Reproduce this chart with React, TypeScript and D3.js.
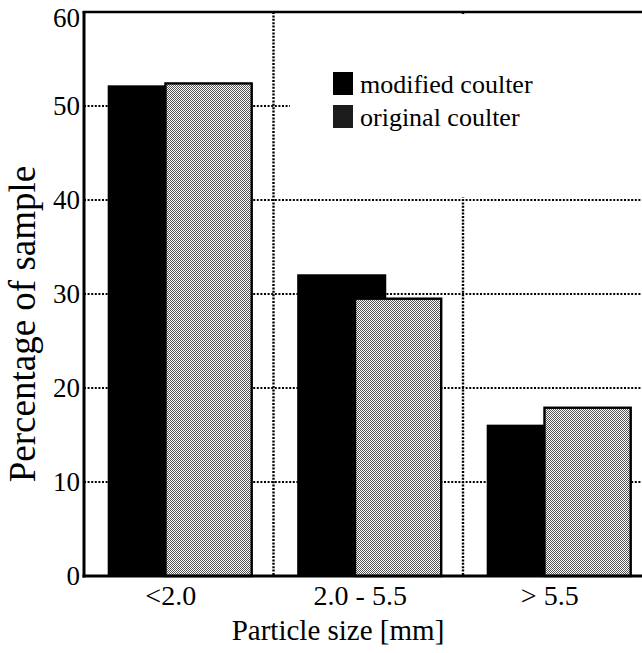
import React from "react";
import * as d3 from "d3";

const categories = ["<2.0", "2.0 - 5.5", "> 5.5"];
const modifiedCoulter = [52.2, 32.1, 16.1];
const originalCoulter = [52.4, 29.5, 17.9];
const yTicks = [0, 10, 20, 30, 40, 50, 60];
const gridTicks = [10, 20, 30, 40, 50];
const seriesNames = ["modified coulter", "original coulter"];

const W = 642;
const H = 653;
const FONT = '"Liberation Serif", "DejaVu Serif", serif';

export default function App() {
  const left = 84;
  const top = 12;
  const bottom = 576;
  const y = d3.scaleLinear().domain([0, 60]).range([bottom, top]);
  const x = d3.scaleBand().domain(categories).range([left, left + 3 * 189.5]).padding(0);
  const bw = x.bandwidth();
  const blackX = (c: string) => (x(c) as number) + bw * 0.125;
  const blackW = bw * 0.47;
  const grayX = (c: string) => (x(c) as number) + bw * 0.43;
  const grayW = bw * 0.455;
  const separators = categories.slice(1).map((c) => x(c) as number);
  const txt = (size: number) => ({ fontFamily: FONT, fontSize: size });

  return (
    <div style={{ position: "absolute", left: 0, top: 0 }}>
      <svg width={W} height={H} style={{ display: "block", background: "#fff" }}>
        <defs>
          <pattern id="dither" width={2} height={2} patternUnits="userSpaceOnUse">
            <rect x={0} y={0} width={2} height={2} fill="#ffffff" />
            <rect x={0} y={0} width={1} height={1} fill="#555555" />
            <rect x={1} y={1} width={1} height={1} fill="#555555" />
          </pattern>
        </defs>
        <rect width={W} height={H} fill="#fff" />

        {gridTicks.map((t) => (
          <line
            key={"g" + t}
            x1={left}
            x2={W}
            y1={y(t)}
            y2={y(t)}
            stroke="#000"
            strokeWidth={2}
            strokeDasharray="2,1.6"
          />
        ))}
        {separators.map((s, i) => (
          <line
            key={"s" + i}
            x1={s}
            x2={s}
            y1={top}
            y2={bottom}
            stroke="#000"
            strokeWidth={2.4}
            strokeDasharray="2,1.4"
          />
        ))}

        <rect x={290} y={top + 2} width={W - 290} height={183} fill="#fff" />

        {categories.map((c, i) => (
          <g key={c}>
            <rect
              x={blackX(c)}
              y={y(modifiedCoulter[i])}
              width={blackW}
              height={bottom - y(modifiedCoulter[i])}
              fill="#000"
            />
            <rect
              x={grayX(c)}
              y={y(originalCoulter[i])}
              width={grayW}
              height={bottom - y(originalCoulter[i])}
              fill="url(#dither)"
              stroke="#000"
              strokeWidth={2.4}
            />
          </g>
        ))}

        <line x1={left} x2={left} y1={top} y2={bottom + 1.5} stroke="#000" strokeWidth={3} />
        <line x1={left - 1.5} x2={W} y1={top} y2={top} stroke="#000" strokeWidth={2.5} />
        <line x1={left - 1.5} x2={W} y1={bottom} y2={bottom} stroke="#000" strokeWidth={3} />

        {yTicks.map((t) => (
          <text
            key={"t" + t}
            x={80}
            y={y(t)}
            dy={t === 60 ? "0.55em" : "0.35em"}
            textAnchor="end"
            style={txt(27)}
            fill="#000"
          >
            {t}
          </text>
        ))}

        {categories.map((c) => (
          <text
            key={"x" + c}
            x={(x(c) as number) + bw / 2 - 8}
            y={605}
            textAnchor="middle"
            style={txt(28)}
            fill="#000"
          >
            {c}
          </text>
        ))}

        <text x={338} y={640} textAnchor="middle" style={txt(29)} fill="#000">
          Particle size [mm]
        </text>
        <text
          transform={`translate(35, ${324}) rotate(-90)`}
          textAnchor="middle"
          style={txt(37)}
          fill="#000"
        >
          Percentage of sample
        </text>

        {seriesNames.map((n, i) => (
          <g key={n} transform={`translate(333, ${72 + i * 33})`}>
            <rect width={20} height={23} fill={i === 0 ? "#000" : "#1c1c1c"} />
            <text x={27} y={21} style={txt(26)} fill="#000">
              {n}
            </text>
          </g>
        ))}
      </svg>
    </div>
  );
}
